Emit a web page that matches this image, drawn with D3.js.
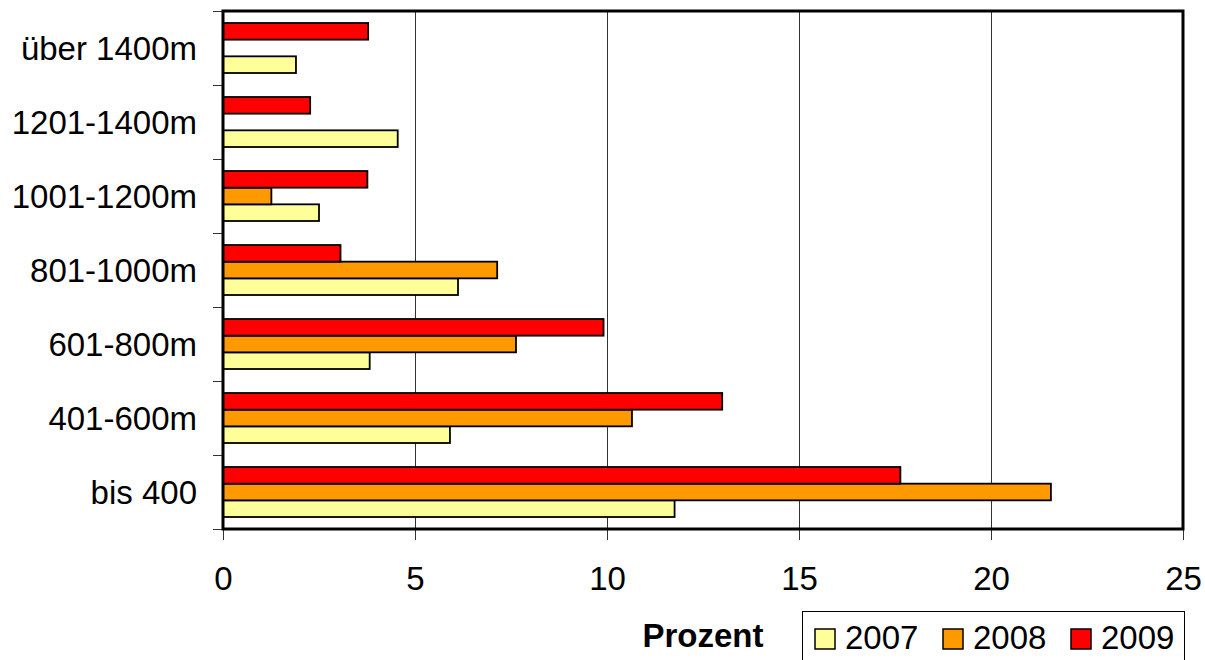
<!DOCTYPE html>
<html>
<head>
<meta charset="utf-8">
<script src="https://cdn.jsdelivr.net/npm/d3@7"></script>
<style>
    body { margin: 0; background: #fff; }
    svg { display: block; }
</style>
</head>
<body>
<div id="chart"></div>
<script>
// Hoehenstufen, oben nach unten
var categories = ["über 1400m", "1201-1400m", "1001-1200m", "801-1000m", "601-800m", "401-600m", "bis 400"];
var years = ["2007", "2008", "2009"];
var values2007 = [1.90, 4.55, 2.50, 6.12, 3.82, 5.91, 11.76];
var values2008 = [null, null, 1.26, 7.14, 7.63, 10.65, 21.56];
var values2009 = [3.78, 2.27, 3.76, 3.06, 9.91, 13.00, 17.64];
var xTicks = [0, 5, 10, 15, 20, 25];
var colors = { "2007": "#FFFF99", "2008": "#FF9900", "2009": "#FF0000" };

var FONT = "Arial, 'Liberation Sans', sans-serif";

function drawChart(id, width, height)
{
    var svg = d3.select(id).append("svg")
        .attr("width", width)
        .attr("height", height);

    var left = 223, right = 1183, top = 11, bottom = 529;

    var x = d3.scaleLinear().domain([0, 25]).range([left, right]);
    var y = d3.scaleBand().domain(categories).range([top, bottom])
        .paddingInner(24 / 74).paddingOuter(12 / 74);
    // 2009 oben, 2007 unten
    var ySub = d3.scaleBand().domain(["2009", "2008", "2007"]).range([0, y.bandwidth()]);

    var series = { "2007": values2007, "2008": values2008, "2009": values2009 };

    // gridlines
    svg.append("g")
        .selectAll("line")
        .data(xTicks.slice(1, -1))
        .enter().append("line")
        .attr("x1", function(d) { return Math.round(x(d)) + 0.5; })
        .attr("x2", function(d) { return Math.round(x(d)) + 0.5; })
        .attr("y1", top)
        .attr("y2", bottom)
        .attr("stroke", "#333")
        .attr("stroke-width", 1);

    // x axis
    var xAxis = svg.append("g")
        .attr("transform", "translate(0," + bottom + ")")
        .call(d3.axisBottom(x).tickValues(xTicks).tickSize(11).tickPadding(27));
    xAxis.select(".domain").remove();
    xAxis.selectAll("line").attr("stroke", "#333");
    xAxis.selectAll("text")
        .attr("font-family", FONT)
        .attr("font-size", "33px")
        .attr("fill", "#000");

    // y axis ticks at band edges
    var edges = categories.map(function(c) { return y(c) - y.step() * y.paddingOuter(); });
    edges.push(bottom);
    svg.append("g")
        .selectAll("line")
        .data(edges)
        .enter().append("line")
        .attr("x1", left - 10)
        .attr("x2", left)
        .attr("y1", function(d) { return Math.round(d) + 0.5; })
        .attr("y2", function(d) { return Math.round(d) + 0.5; })
        .attr("stroke", "#333");

    svg.append("g")
        .selectAll("text")
        .data(categories)
        .enter().append("text")
        .attr("x", 197)
        .attr("y", function(d) { return y(d) + y.bandwidth() / 2; })
        .attr("dy", "0.35em")
        .attr("text-anchor", "end")
        .attr("font-family", FONT)
        .attr("font-size", "33px")
        .text(function(d) { return d; });

    // bars
    for (var yi = 0; yi < years.length; yi++) {
        var yr = years[yi];
        svg.append("g")
            .selectAll("rect")
            .data(categories.map(function(c, i) { return { cat: c, value: series[yr][i] }; })
                .filter(function(d) { return d.value != null; }))
            .enter().append("rect")
            .attr("x", x(0))
            .attr("y", function(d) { return y(d.cat) + ySub(yr); })
            .attr("width", function(d) { return x(d.value) - x(0); })
            .attr("height", ySub.bandwidth())
            .attr("fill", colors[yr])
            .attr("stroke", "#000")
            .attr("stroke-width", 1.8);
    }

    // frame
    svg.append("path")
        .attr("d", "M" + left + "," + top + "H" + right + "V" + bottom + "H" + left + "Z")
        .attr("fill", "none")
        .attr("stroke", "#000")
        .attr("stroke-width", 3);

    // axis title
    svg.append("text")
        .attr("x", 703)
        .attr("y", 647)
        .attr("text-anchor", "middle")
        .attr("font-family", FONT)
        .attr("font-weight", "bold")
        .attr("font-size", "33px")
        .text("Prozent");

    // legend
    var legend = svg.append("g");
    legend.append("rect")
        .attr("x", 802.5)
        .attr("y", 611.5)
        .attr("width", 382)
        .attr("height", 60)
        .attr("fill", "#fff")
        .attr("stroke", "#000")
        .attr("stroke-width", 1);

    var item = legend.selectAll(".item")
        .data(years)
        .enter().append("g")
        .attr("class", "item")
        .attr("transform", function(d, i) { return "translate(" + (815 + i * 128) + ",629)"; });
    item.append("rect")
        .attr("width", 20)
        .attr("height", 20)
        .attr("fill", function(d) { return colors[d]; })
        .attr("stroke", "#000")
        .attr("stroke-width", 1.5);
    item.append("text")
        .attr("x", 30)
        .attr("y", 20)
        .attr("font-family", FONT)
        .attr("font-size", "33px")
        .text(function(d) { return d; });
}

drawChart("#chart", 1205, 660);
</script>
</body>
</html>
